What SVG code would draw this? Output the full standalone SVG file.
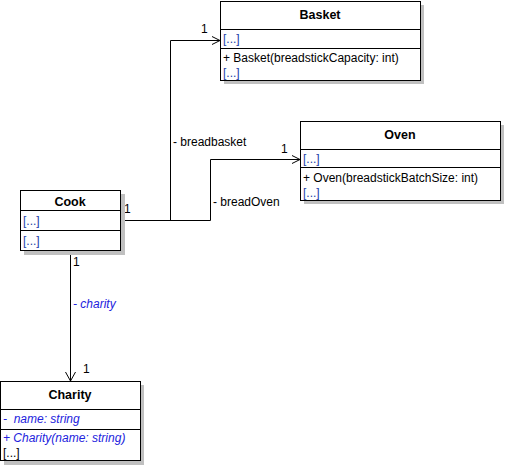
<svg xmlns="http://www.w3.org/2000/svg" width="505" height="465" viewBox="0 0 505 465">
<style>
text{font-family:"Liberation Sans",Arial,sans-serif;font-size:12px;fill:#000}
.t{font-weight:bold;font-size:12.5px;text-anchor:middle}
.d{fill:#1c3fa8}
.i{fill:#2222dd;font-style:italic}
.box{fill:#fff;stroke:#000;stroke-width:1}
.sh{fill:#c0c0c0}
.ln{fill:none;stroke:#000;stroke-width:1}
</style>
<rect x="0" y="0" width="505" height="465" fill="#fff"/>
<g id="connectors">
<path class="ln" d="M121,220.5 H170.5 V40.5 H220"/>
<path class="ln" d="M212,36.5 L220,40.5 L212,44.5"/>
<path class="ln" d="M121,220.5 H210.5 V159.5 H300"/>
<path class="ln" d="M292,155.5 L300,159.5 L292,163.5"/>
<path class="ln" d="M70.5,251 V381"/>
<path class="ln" d="M65.5,372 L70.5,381 L75.5,372"/>
<text x="201" y="33">1</text>
<text x="173" y="146">- breadbasket</text>
<text x="281" y="153">1</text>
<text x="213" y="206">- breadOven</text>
<text x="124" y="213">1</text>
<text x="73" y="266">1</text>
<text x="73" y="308" class="i">- charity</text>
<text x="83" y="373">1</text>
</g>
<g id="basket">
<rect class="sh" x="224" y="5" width="200" height="79"/>
<rect class="box" x="220.5" y="1.5" width="200" height="79"/>
<path class="ln" d="M220,29.5 H421 M220,48.5 H421"/>
<text class="t" x="320" y="19">Basket</text>
<text class="d" x="223" y="43">[...]</text>
<text x="223" y="62">+ Basket(breadstickCapacity: int)</text>
<text class="d" x="223" y="77">[...]</text>
</g>
<g id="oven">
<rect class="sh" x="304" y="125" width="200" height="79"/>
<rect class="box" x="300.5" y="121.5" width="200" height="79"/>
<path class="ln" d="M300,149.5 H501 M300,167.5 H501"/>
<text class="t" x="400" y="139">Oven</text>
<text class="d" x="303" y="163">[...]</text>
<text x="303" y="182">+ Oven(breadstickBatchSize: int)</text>
<text class="d" x="303" y="197">[...]</text>
</g>
<g id="cook">
<rect class="sh" x="24" y="194" width="101" height="61"/>
<rect class="box" x="20.5" y="190.5" width="100" height="60"/>
<path class="ln" d="M20,210.5 H121 M20,230.5 H121"/>
<text class="t" x="70" y="206">Cook</text>
<text class="d" x="23" y="225">[...]</text>
<text class="d" x="23" y="245">[...]</text>
</g>
<g id="charity">
<rect class="sh" x="4" y="385" width="140" height="80"/>
<rect class="box" x="0.5" y="381.5" width="140" height="79"/>
<path class="ln" d="M0,409.5 H141 M0,429.5 H141"/>
<text class="t" x="70" y="399">Charity</text>
<text class="i" x="3" y="423" xml:space="preserve">-  name: string</text>
<text class="i" x="3" y="442">+ Charity(name: string)</text>
<text x="3" y="457">[...]</text>
</g>
</svg>
